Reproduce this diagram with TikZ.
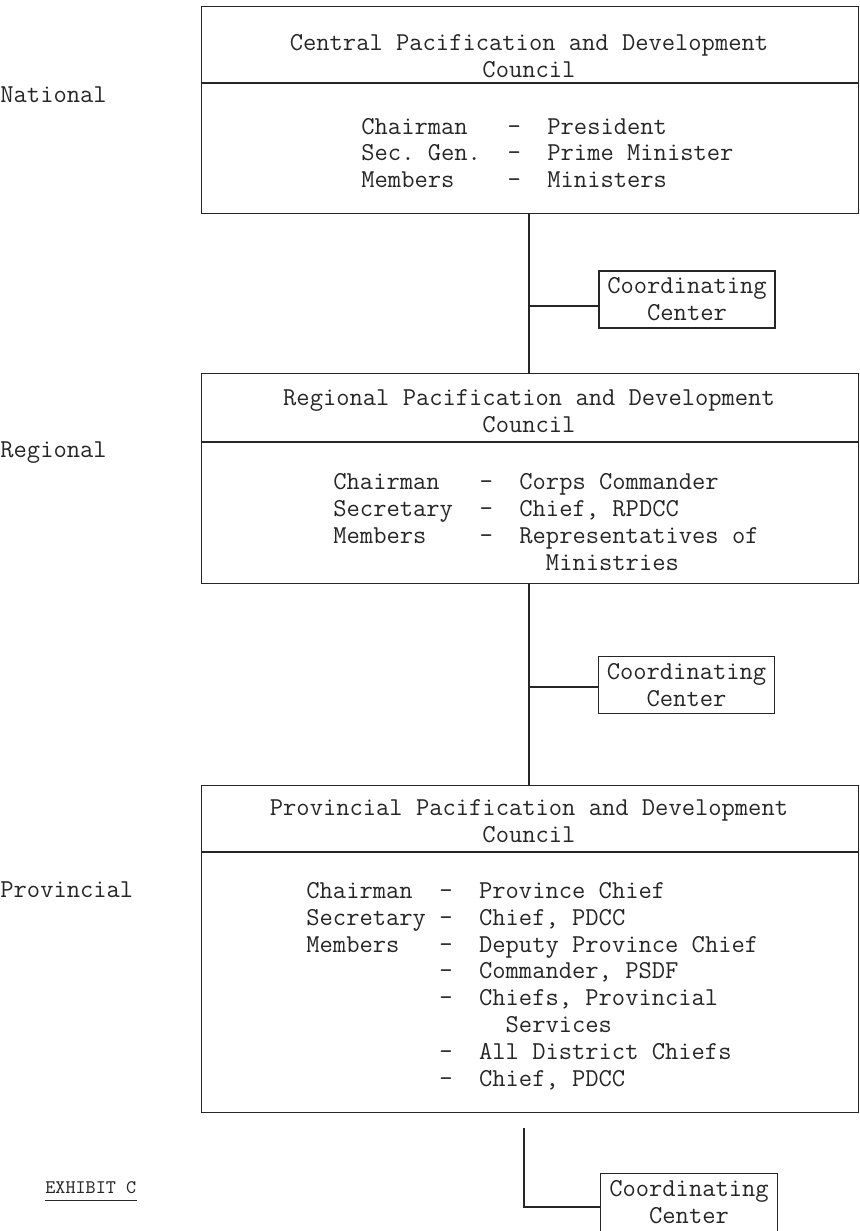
\documentclass[tikz,border=0pt]{standalone}
\usepackage{fontspec}
\begin{document}
\newcommand{\twfont}{\ttfamily\fontsize{12.9}{13.4}\selectfont}
\newcommand{\exfont}{\ttfamily\fontsize{9.6}{11}\selectfont}
\begin{tikzpicture}[x=0.5pt,y=-0.5pt,
  ink/.style={draw=black!85, line width=0.7pt},
  txt/.style={inner sep=0pt, font=\twfont, text=black!85},
  councilbox/.style={ink, rectangle, inner sep=0pt, anchor=north west},
  ccbox/.style={ink, rectangle, inner sep=0pt, minimum width=88pt, minimum height=28.5pt, align=center, font=\twfont, text=black!85},
  level/.style={txt, anchor=west},
  body/.style={txt, anchor=west, align=left},
  title/.style={txt, align=center}]
\useasboundingbox (0,0) rectangle (860,1231);

% council boxes
\node[councilbox, minimum width=328.5pt, minimum height=103.5pt] (b1) at (201,6) {};
\node[councilbox, minimum width=328.5pt, minimum height=105pt] (b2) at (201,373) {};
\node[councilbox, minimum width=328.5pt, minimum height=163.5pt] (b3) at (201,785) {};

% dividers
\coordinate (d1) at (201,83);
\coordinate (d2) at (201,442);
\coordinate (d3) at (201,852);
\draw[ink] (d1) -- (d1 -| b1.east);
\draw[ink] (d2) -- (d2 -| b2.east);
\draw[ink] (d3) -- (d3 -| b3.east);

% titles
\node[title] (t1) at (529,56) {Central Pacification and Development\\Council};
\node[title] (t2) at (529,411) {Regional Pacification and Development\\Council};
\node[title] (t3) at (529,821) {Provincial Pacification and Development\\Council};

% bodies
\node[body] (m1) at (361,153) {Chairman~~~-~~President\\Sec.~Gen.~~-~~Prime Minister\\Members~~~~-~~Ministers};
\node[body] (m2) at (333,522) {Chairman~~~-~~Corps Commander\\Secretary~~-~~Chief, RPDCC\\Members~~~~-~~Representatives of\\~~~~~~~~~~~~~~~~Ministries};
\node[body] (m3) at (306,986) {Chairman~~-~~Province Chief\\Secretary~-~~Chief, PDCC\\Members~~~-~~Deputy Province Chief\\~~~~~~~~~~-~~Commander, PSDF\\~~~~~~~~~~-~~Chiefs, Provincial\\~~~~~~~~~~~~~~~Services\\~~~~~~~~~~-~~All District Chiefs\\~~~~~~~~~~-~~Chief, PDCC};

% level labels
\node[level] (national) at (0,95) {National};
\node[level] (regional) at (0,453) {Regional};
\node[level] (provincial) at (0,890) {Provincial};

% coordinating centers
\node[ccbox] (cc1) at (687,299.5) {Coordinating\\Center};
\node[ccbox] (cc2) at (686.5,685) {Coordinating\\Center};
\node[txt, align=center, minimum width=88pt, minimum height=28.5pt] (cc3) at (689,1202.5) {Coordinating\\Center};

% connectors
\coordinate (j1) at (529,306);
\coordinate (j2) at (529,687);
\coordinate (v3top) at (524,1128);
\coordinate (j3) at (524,1207);
\draw[ink] (b1.south -| j1) -- (b2.north -| j1);
\draw[ink] (j1) -- (j1 -| cc1.west);
\draw[ink] (b2.south -| j2) -- (b3.north -| j2);
\draw[ink] (j2) -- (j2 -| cc2.west);
\draw[ink] (v3top) -- (j3) -- (j3 -| cc3.west);
\draw[ink] (cc3.south west) -- (cc3.north west) -- (cc3.north east) -- (cc3.south east);

% exhibit label
\node[txt, font=\exfont, anchor=west] (ex) at (45,1188) {EXHIBIT C};
\draw[draw=black!85, line width=0.6pt] ([yshift=-3pt]ex.south west) -- ([yshift=-3pt]ex.south east);
\end{tikzpicture}
\end{document}
